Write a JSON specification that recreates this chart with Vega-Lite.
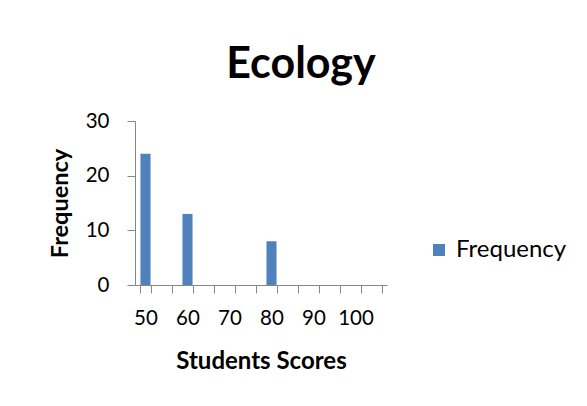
{
  "$schema": "https://vega.github.io/schema/vega-lite/v6.json",
  "width": 252,
  "height": 164,
  "autosize": {"type": "none"},
  "padding": {"left": 135, "top": 121, "right": 200, "bottom": 121},
  "background": "white",
  "config": {"view": {"stroke": null}, "font": "Lato"},
  "title": {"text": "Ecology", "fontSize": 43, "font": "Lato", "fontWeight": "bold", "color": "black", "dx": 40, "offset": 24, "anchor": "middle"},
  "data": {"values": [
    {"score": 50, "frequency": 24, "series": "Frequency"},
    {"score": 55, "frequency": 0, "series": "Frequency"},
    {"score": 60, "frequency": 13, "series": "Frequency"},
    {"score": 65, "frequency": 0, "series": "Frequency"},
    {"score": 70, "frequency": 0, "series": "Frequency"},
    {"score": 75, "frequency": 0, "series": "Frequency"},
    {"score": 80, "frequency": 8, "series": "Frequency"},
    {"score": 85, "frequency": 0, "series": "Frequency"},
    {"score": 90, "frequency": 0, "series": "Frequency"},
    {"score": 95, "frequency": 0, "series": "Frequency"},
    {"score": 100, "frequency": 0, "series": "Frequency"},
    {"score": 105, "frequency": 0, "series": "Frequency"}
  ]},
  "mark": {"type": "bar"},
  "encoding": {
    "x": {
      "field": "score", "type": "ordinal",
      "scale": {"paddingInner": 0.52, "paddingOuter": 0.26},
      "axis": {
        "title": "Students Scores", "titleFont": "Lato", "titleFontSize": 24, "titleFontWeight": "bold", "titleColor": "black", "titlePadding": 21,
        "labelAngle": 0, "labelFont": "Lato", "labelFontSize": 20.5, "labelColor": "black", "labelPadding": 15,
        "labelExpr": "datum.value % 10 == 0 ? datum.label : ''",
        "tickBand": "extent", "tickSize": 8, "tickColor": "#868686", "domainColor": "#868686", "grid": false
      }
    },
    "y": {
      "field": "frequency", "type": "quantitative",
      "scale": {"domain": [0, 30]},
      "axis": {
        "title": "Frequency", "titleFont": "Lato", "titleFontSize": 23.5, "titleFontWeight": "bold", "titleColor": "black", "titlePadding": 13,
        "values": [0, 10, 20, 30], "labelFont": "Lato", "labelFontSize": 20.5, "labelColor": "black", "labelPadding": 18,
        "tickSize": 8, "tickColor": "#868686", "domainColor": "#868686", "grid": false
      }
    },
    "color": {
      "field": "series", "type": "nominal",
      "scale": {"range": ["#4F81BD"]},
      "legend": {"title": null, "orient": "none", "legendX": 292, "legendY": 117, "symbolType": "square", "symbolSize": 144, "symbolStrokeWidth": 0, "labelFont": "Lato", "labelFontSize": 24, "labelColor": "black", "labelOffset": 5}
    }
  }
}
